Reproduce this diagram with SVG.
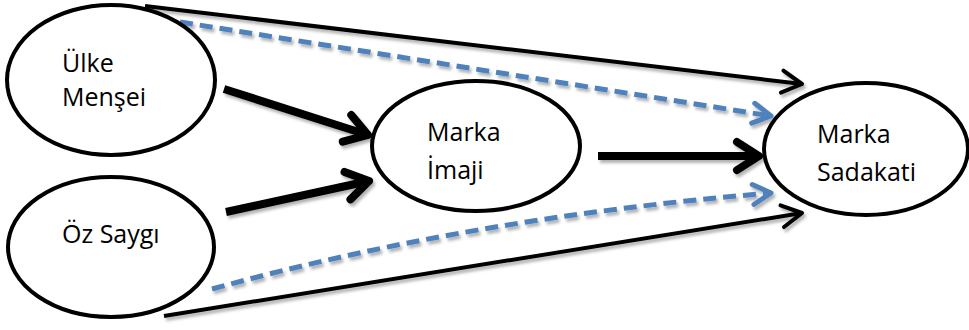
<svg xmlns="http://www.w3.org/2000/svg" width="969" height="330" viewBox="0 0 969 330">
<style>
  .node ellipse { fill: #ffffff; stroke: #000000; stroke-width: 4; }
  .node text { font-family: "Open Sans", "Liberation Sans", sans-serif; font-size: 25px; fill: #000000; }
  .thin { stroke: #000000; stroke-width: 4; fill: none; }
  .thick { stroke: #000000; stroke-width: 8; fill: none; }
  .dash { stroke: #4f81bd; stroke-width: 5; fill: none; stroke-dasharray: 13 7; }
</style>
<defs>
  <filter id="shadow" x="-10%" y="-10%" width="120%" height="130%">
    <feDropShadow dx="2" dy="3" stdDeviation="1.8" flood-color="#000000" flood-opacity="0.3"/>
  </filter>
  <marker id="arrThin" markerUnits="userSpaceOnUse" viewBox="-30 -20 36 40" refX="0" refY="0" markerWidth="36" markerHeight="40" orient="auto" overflow="visible">
    <path d="M-20,-11 L0,0 L-20,11" fill="none" stroke="#000000" stroke-width="4" stroke-linecap="round" stroke-linejoin="round"/>
  </marker>
  <marker id="arrThick" markerUnits="userSpaceOnUse" viewBox="-36 -24 42 48" refX="0" refY="0" markerWidth="42" markerHeight="48" orient="auto" overflow="visible">
    <path d="M-22,-14 L0,0 L-22,14" fill="none" stroke="#000000" stroke-width="8" stroke-linecap="round" stroke-linejoin="round"/>
  </marker>
  <marker id="arrBlue" markerUnits="userSpaceOnUse" viewBox="-30 -20 36 40" refX="0" refY="0" markerWidth="36" markerHeight="40" orient="auto" overflow="visible">
    <path d="M-18,-10 L0,0 L-18,10" fill="none" stroke="#4f81bd" stroke-width="5" stroke-linecap="round" stroke-linejoin="round"/>
  </marker>
</defs>

<g id="connectors" filter="url(#shadow)">
  <path class="thin" d="M145,6 L802,84" marker-end="url(#arrThin)"/>
  <path class="dash" d="M180,22 L771,116" marker-end="url(#arrBlue)"/>
  <path class="thick" d="M224,89 L368,135" marker-end="url(#arrThick)"/>
  <path class="thick" d="M226,212 L369,181" marker-end="url(#arrThick)"/>
  <path class="thick" d="M598,156 L759,156" marker-end="url(#arrThick)"/>
  <path class="dash" d="M212,289 Q470,218 771,193" marker-end="url(#arrBlue)"/>
  <path class="thin" d="M164,316 L802,213" marker-end="url(#arrThin)"/>
</g>

<g id="ulke-mensei" class="node">
  <ellipse cx="111" cy="80" rx="104" ry="75"/>
  <text x="62" y="72">Ülke</text>
  <text x="62" y="106">Menşei</text>
</g>

<g id="oz-saygi" class="node">
  <ellipse cx="111" cy="247" rx="103" ry="70"/>
  <text x="62" y="243">Öz Saygı</text>
</g>

<g id="marka-imaji" class="node">
  <ellipse cx="476" cy="146" rx="104" ry="65"/>
  <text x="427" y="141">Marka</text>
  <text x="427" y="179">İmaji</text>
</g>

<g id="marka-sadakati" class="node">
  <ellipse cx="866" cy="149" rx="102" ry="66"/>
  <text x="817" y="143">Marka</text>
  <text x="817" y="181">Sadakati</text>
</g>
</svg>
